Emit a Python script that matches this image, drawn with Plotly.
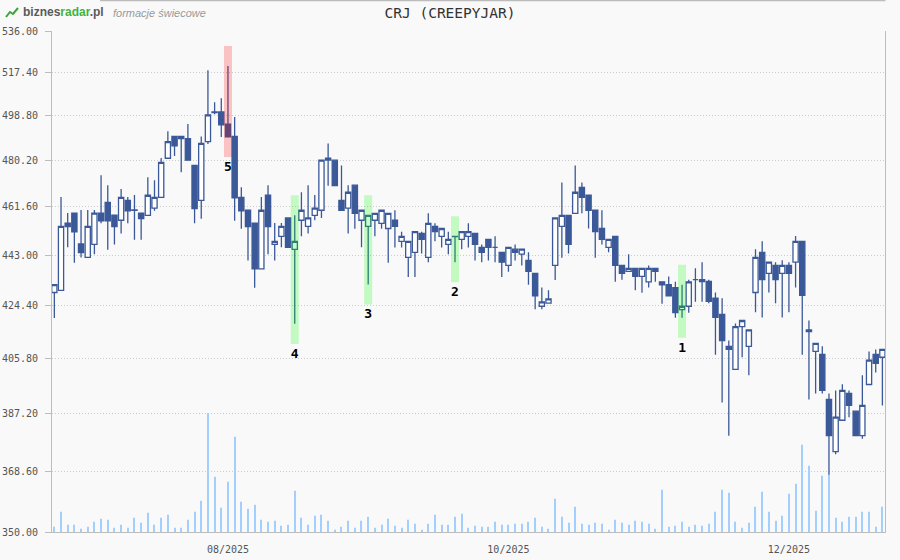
import math
import pandas as pd
import plotly.graph_objects as go

# ---------------- data ----------------
holidays = ['2025-08-15', '2025-11-11']
dates = [d.strftime('%Y-%m-%d') for d in pd.bdate_range('2025-06-26', '2025-12-19')
         if d.strftime('%Y-%m-%d') not in holidays]

open_ = [429.1, 429.9, 455.2, 459.1, 447.2, 442.1, 447.0, 459.1, 463.3, 458.3,
         456.3, 464.1, 460.3, 459.1, 458.2, 461.0, 465.3, 481.0, 490.0, 489.1,
         489.1, 478.1, 464.1, 487.9, 500.1, 500.3, 495.2, 490.0, 465.3, 460.2,
         455.2, 437.8, 466.1, 447.0, 450.1, 457.2, 445.1, 456.3, 453.9, 458.2,
         460.2, 480.2, 480.2, 464.1, 461.0, 470.1, 456.3, 453.9, 456.3, 455.1,
         453.1, 456.3, 448.2, 442.1, 444.0, 451.2, 442.1, 453.9, 450.1, 447.0,
         450.0, 448.9, 450.1, 451.2, 445.9, 448.9, 445.9, 444.0, 439.1, 445.2,
         443.3, 441.0, 436.1, 424.1, 425.2, 439.1, 453.9, 458.2, 459.0, 469.2,
         466.1, 460.2, 453.1, 445.9, 450.1, 439.1, 436.9, 438.0, 435.0, 433.0,
         438.0, 433.0, 432.0, 430.9, 422.9, 424.1, 433.8, 433.8, 433.2, 427.0,
         421.2, 409.9, 401.9, 416.8, 409.9, 429.1, 444.0, 436.1, 439.1, 436.1,
         439.1, 440.3, 448.2, 415.1, 408.1, 407.1, 391.8, 374.8, 384.9, 393.8,
         387.9, 379.9, 396.8, 407.1, 406.1]
high = [432.0, 465.4, 459.1, 459.1, 460.3, 460.3, 460.3, 474.1, 470.1, 458.3,
        468.6, 465.4, 466.2, 459.1, 473.3, 472.1, 481.1, 492.2, 490.0, 490.0,
        495.2, 478.1, 490.0, 518.4, 504.5, 506.2, 520.3, 498.2, 469.3, 460.2,
        455.2, 465.4, 470.1, 455.2, 455.2, 457.2, 458.2, 467.3, 470.1, 466.2,
        480.2, 487.1, 480.2, 478.1, 470.1, 470.1, 460.2, 458.2, 459.0, 460.2,
        459.0, 460.2, 451.9, 448.2, 451.9, 451.9, 459.0, 455.1, 453.1, 451.9,
        450.1, 451.9, 455.1, 451.2, 447.0, 448.9, 450.1, 444.0, 445.9, 447.0,
        445.2, 444.0, 436.1, 430.9, 429.9, 457.2, 471.2, 458.2, 478.1, 471.2,
        466.1, 460.2, 460.2, 448.9, 450.1, 439.1, 443.3, 438.0, 438.0, 439.1,
        438.0, 433.0, 435.0, 433.0, 431.9, 433.8, 438.0, 440.3, 433.8, 429.1,
        427.0, 411.9, 417.9, 419.0, 415.7, 445.2, 448.2, 440.3, 440.3, 441.0,
        440.3, 450.2, 448.2, 419.0, 410.9, 409.9, 393.8, 394.8, 396.9, 394.8,
        387.9, 399.9, 408.1, 408.8, 408.8]
low = [419.9, 429.9, 445.9, 440.1, 442.1, 442.1, 443.3, 455.1, 445.0, 447.0,
       451.2, 455.1, 448.8, 448.8, 458.2, 460.0, 465.3, 481.0, 481.9, 475.3,
       480.2, 455.1, 456.9, 486.9, 499.4, 489.8, 489.8, 456.1, 453.0, 440.9,
       430.8, 437.8, 443.3, 440.9, 445.9, 445.9, 417.8, 450.1, 451.2, 456.3,
       457.2, 469.9, 469.9, 460.2, 451.2, 453.0, 445.9, 432.0, 450.1, 453.0,
       440.1, 445.8, 445.8, 434.8, 434.8, 443.6, 440.3, 448.2, 445.8, 443.3,
       440.3, 445.2, 445.8, 440.9, 440.3, 440.9, 440.3, 434.8, 436.7, 440.9,
       439.1, 431.9, 423.0, 423.0, 425.2, 433.7, 442.0, 443.6, 459.0, 459.0,
       453.1, 442.0, 447.0, 444.0, 433.0, 433.8, 436.9, 429.9, 429.0, 430.9,
       433.0, 425.0, 427.9, 420.0, 420.0, 421.8, 425.7, 425.7, 425.2, 407.0,
       390.8, 379.9, 401.9, 406.1, 399.9, 421.9, 420.1, 429.1, 425.2, 420.1,
       421.9, 430.9, 407.0, 391.8, 393.8, 393.8, 367.4, 373.9, 384.9, 385.9,
       379.9, 378.9, 396.8, 400.9, 389.8]
close = [432.0, 453.9, 453.8, 451.8, 443.9, 453.9, 459.1, 456.1, 456.1, 453.8,
         465.3, 460.0, 460.2, 456.9, 466.1, 465.3, 479.3, 487.9, 486.1, 490.0,
         480.2, 460.8, 487.1, 499.1, 500.3, 494.9, 489.8, 465.1, 460.0, 453.8,
         437.8, 460.2, 453.8, 448.2, 453.9, 445.9, 448.2, 460.2, 457.2, 461.0,
         480.2, 481.0, 469.9, 460.2, 467.3, 459.0, 460.2, 458.2, 459.0, 460.2,
         459.0, 453.9, 450.1, 448.2, 451.9, 448.9, 455.1, 451.9, 453.1, 448.9,
         450.1, 451.9, 451.9, 447.0, 444.0, 445.9, 445.9, 440.3, 445.9, 444.0,
         445.2, 436.9, 427.9, 425.7, 426.8, 457.2, 458.2, 447.0, 467.3, 465.3,
         460.2, 451.9, 448.9, 448.9, 439.1, 436.1, 438.0, 435.0, 438.0, 438.0,
         436.9, 431.9, 427.9, 421.8, 424.1, 433.0, 433.8, 433.1, 425.9, 420.1,
         411.9, 408.8, 416.8, 419.0, 415.7, 442.1, 433.8, 440.3, 433.8, 439.1,
         436.1, 448.2, 428.1, 415.7, 410.9, 394.8, 379.9, 385.9, 394.8, 389.8,
         379.9, 389.8, 405.1, 404.0, 408.8]
volume = [53, 203, 73, 73, 33, 53, 103, 133, 123, 43,
          73, 43, 143, 93, 193, 73, 143, 173, 43, 43,
          123, 203, 313, 1190, 553, 243, 503, 953, 303, 233,
          273, 123, 103, 113, 63, 73, 413, 143, 73, 163,
          173, 113, 23, 53, 113, 43, 113, 153, 43, 73,
          133, 63, 43, 123, 83, 23, 83, 173, 73, 73,
          153, 183, 43, 63, 53, 53, 103, 73, 73, 83,
          83, 103, 143, 53, 33, 333, 153, 93, 253, 83,
          73, 93, 83, 23, 123, 93, 73, 113, 103, 83,
          33, 423, 53, 63, 103, 53, 73, 63, 83, 203,
          423, 393, 103, 43, 93, 253, 403, 203, 113, 163,
          383, 483, 873, 663, 213, 563, 573, 143, 103, 153,
          153, 203, 203, 53, 253]

tick_dates = ['2025-08-01', '2025-10-01', '2025-12-01']
tick_text = ['08/2025', '10/2025', '12/2025']
price_ticks = [350.0, 368.6, 387.2, 405.8, 424.4, 443.0, 461.6, 480.2, 498.8, 517.4, 536.0]

pattern_dates = ['2025-11-06', '2025-09-19', '2025-09-02', '2025-08-18', '2025-08-01']
pattern_labels = ['1', '2', '3', '4', '5']
pattern_kind = ['bull', 'bull', 'bull', 'bull', 'bear']

# ---------------- style ----------------
BLUE = '#3b5998'
VOL = '#a3cfff'
BG = '#f9f9f9'
AX = '#bdbdbd'
HL_PAD = 1.0172
LAB_PAD = 1.0035
HL_COL = {'bull': 'rgba(0,255,0,0.22)', 'bear': 'rgba(255,0,0,0.22)'}
MONO = 'DejaVu Sans Mono'

L, R, T, B, W, H = 52, 15, 31, 28, 900, 560
PW, PH = W - L - R, H - T - B


def px(xp):
    return (xp - L) / PW


def py(yp):
    return (H - B - yp) / PH


fig = go.Figure()

fig.add_trace(go.Bar(
    x=dates, y=volume, yaxis='y2', width=0.16,
    marker=dict(color=VOL, line=dict(width=0)),
    hoverinfo='skip', showlegend=False))

fig.add_trace(go.Candlestick(
    x=dates, open=open_, high=high, low=low, close=close,
    increasing=dict(line=dict(color=BLUE, width=1.3), fillcolor='#ffffff'),
    decreasing=dict(line=dict(color=BLUE, width=1.3), fillcolor=BLUE),
    whiskerwidth=0, showlegend=False))

lab_x, lab_y, lab_t = [], [], []
for d, lab, kind in zip(pattern_dates, pattern_labels, pattern_kind):
    i = dates.index(d)
    hi = high[i] * HL_PAD
    lo = low[i] / HL_PAD
    fig.add_shape(type='rect', xref='x', yref='y', x0=i - 0.6, x1=i + 0.6,
                  y0=lo, y1=hi, fillcolor=HL_COL[kind], line=dict(width=0),
                  layer='above')
    lab_x.append(d)
    lab_y.append(lo / LAB_PAD)
    lab_t.append('<b>' + lab + '</b>')

fig.add_trace(go.Scatter(
    x=lab_x, y=lab_y, mode='text', text=lab_t, textposition='bottom center',
    textfont=dict(family=MONO, size=13, color='#000000'),
    hoverinfo='skip', showlegend=False))

# top frame line
fig.add_shape(type='line', xref='paper', yref='paper',
              x0=px(100), x1=px(885.5), y0=py(0.5), y1=py(0.5),
              line=dict(color=AX, width=1.5), layer='above')
# logo icon
fig.add_shape(type='path', xref='paper', yref='paper',
              path=f'M {px(6)} {py(17)} L {px(10)} {py(12)} L {px(13)} {py(14)} L {px(18)} {py(8)}',
              line=dict(color='#3aa63a', width=2))

fig.add_annotation(xref='paper', yref='paper', x=px(21), y=py(12),
                   xanchor='left', yanchor='middle', showarrow=False,
                   text='<b>biznes<span style="color:#3fb33f">radar</span>.pl</b>',
                   font=dict(family='Liberation Sans', size=12, color='#5a5a5a'))
fig.add_annotation(xref='paper', yref='paper', x=px(111), y=py(12.5),
                   xanchor='left', yanchor='middle', showarrow=False,
                   text='<i>formacje świecowe</i>',
                   font=dict(family='Liberation Sans', size=11, color='#999999'))

fig.update_layout(
    width=W, height=H,
    margin=dict(l=L, r=R, t=T, b=B, pad=0, autoexpand=False),
    paper_bgcolor=BG, plot_bgcolor=BG,
    boxgap=0.22, boxgroupgap=0,
    title=dict(text='CRJ (CREEPYJAR)', x=0.5, xref='container', xanchor='center',
               y=1 - 13 / H, yref='container', yanchor='middle', automargin=False,
               font=dict(family=MONO, size=14.5, color='#333333')),
    xaxis=dict(type='category', range=[-0.35, 124.39], automargin=False,
               tickvals=tick_dates, ticktext=tick_text, tickangle=0,
               showgrid=False, showline=True, linecolor=AX, linewidth=1,
               ticks='', ticklabelstandoff=8,
               tickfont=dict(family=MONO, size=10, color='#555555'),
               rangeslider=dict(visible=False), fixedrange=True),
    yaxis=dict(type='log', range=[math.log10(350), math.log10(536)], automargin=False,
               tickvals=price_ticks, ticktext=[f'{v:.2f}' for v in price_ticks],
               showgrid=True, gridcolor='#cccccc', griddash='1px,2px', gridwidth=1,
               showline=True, linecolor=AX, linewidth=1, mirror=True,
               ticks='outside', ticklen=6, tickcolor=AX, ticklabelstandoff=5,
               tickfont=dict(family=MONO, size=10, color='#555555'),
               zeroline=False, fixedrange=True),
    yaxis2=dict(overlaying='y', range=[0, max(volume) / 0.2375], visible=False,
                automargin=False, fixedrange=True),
    showlegend=False, hovermode=False,
)

fig.write_html('out.html', config={'displayModeBar': False},
               post_script="document.body.style.margin='0';"
                           "document.body.style.background='#f9f9f9';")
